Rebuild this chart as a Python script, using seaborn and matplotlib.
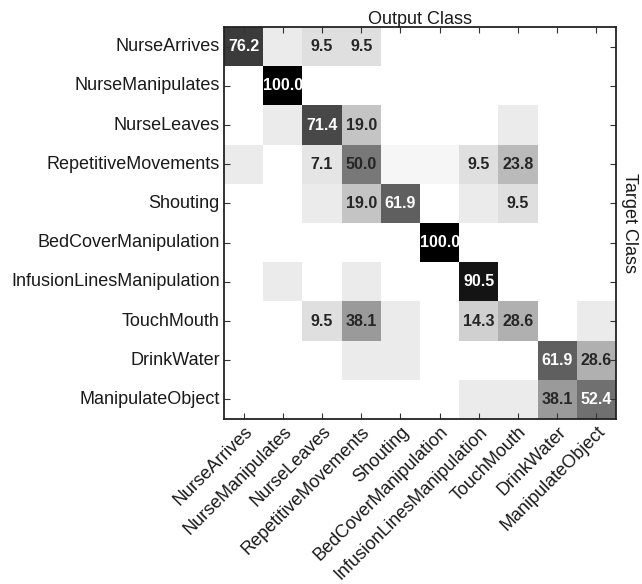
import numpy as np
import pandas as pd
import matplotlib
matplotlib.use("Agg")
import matplotlib.pyplot as plt
from matplotlib.colors import LinearSegmentedColormap
import seaborn as sns

classes = ["NurseArrives", "NurseManipulates", "NurseLeaves", "RepetitiveMovements",
           "Shouting", "BedCoverManipulation", "InfusionLinesManipulation",
           "TouchMouth", "DrinkWater", "ManipulateObject"]

row_nurse_arrives = [76.2, 4.8, 9.5, 9.5, 0, 0, 0, 0, 0, 0]
row_nurse_manip   = [0, 100.0, 0, 0, 0, 0, 0, 0, 0, 0]
row_nurse_leaves  = [0, 4.8, 71.4, 19.0, 0, 0, 0, 4.8, 0, 0]
row_repetitive    = [4.8, 0, 7.1, 50.0, 2.4, 2.4, 9.5, 23.8, 0, 0]
row_shouting      = [0, 0, 4.8, 19.0, 61.9, 0, 4.8, 9.5, 0, 0]
row_bedcover      = [0, 0, 0, 0, 0, 100.0, 0, 0, 0, 0]
row_infusion      = [0, 4.8, 0, 4.8, 0, 0, 90.5, 0, 0, 0]
row_touchmouth    = [0, 0, 9.5, 38.1, 4.8, 0, 14.3, 28.6, 0, 4.8]
row_drinkwater    = [0, 0, 0, 4.8, 4.8, 0, 0, 0, 61.9, 28.6]
row_manipobj      = [0, 0, 0, 0, 0, 0, 4.8, 4.8, 38.1, 52.4]

matrix = np.array([row_nurse_arrives, row_nurse_manip, row_nurse_leaves, row_repetitive,
                   row_shouting, row_bedcover, row_infusion, row_touchmouth,
                   row_drinkwater, row_manipobj])
df = pd.DataFrame(matrix, index=classes, columns=classes)

annot = np.where(matrix >= 5, np.vectorize(lambda v: f"{v:.1f}")(matrix), "")

# grey scale
nodes_v = [0, 2.4, 4.8, 9.5, 14.3, 19, 23.8, 28.6, 38.1, 50, 52.4, 61.9, 71.4, 76.2, 90.5, 100]
nodes_g = [255, 246, 235, 223, 207, 196, 185, 176, 154, 121, 112, 95, 72, 60, 20, 0]
cmap = LinearSegmentedColormap.from_list(
    "cm", [(v / 100.0, (g / 255.0, g / 255.0, min(1.0, g / 255.0 + 0.004))) for v, g in zip(nodes_v, nodes_g)])

sns.set_theme(style="white")
plt.rcParams['font.family'] = ['Liberation Sans', 'DejaVu Sans']

fig = plt.figure(figsize=(6.42, 5.84), dpi=100)
ax = fig.add_axes([224 / 642, 1 - 419 / 584, 392 / 642, 392 / 584])

sns.heatmap(df, ax=ax, cmap=cmap, vmin=0, vmax=100, cbar=False, annot=annot, fmt="",
            annot_kws={"fontsize": 11.5, "fontweight": "bold"}, linewidths=0, square=False)

for t in ax.texts:
    s = t.get_text()
    if s:
        v = float(s)
        t.set_color("white" if v > 51 else "#262626")

ax.set_axisbelow(False)
for sp in ax.spines.values():
    sp.set_visible(True)
    sp.set_color("#222222")
    sp.set_linewidth(1.3)
    sp.set_zorder(5)

ax.tick_params(axis="both", which="major", direction="in", length=4, width=0.8,
               color="#333333", top=True, right=True, bottom=True, left=True,
               labeltop=False, labelright=False, labelsize=13, pad=3)
ax.set_yticklabels(classes, rotation=0, fontsize=13, color="#1a1a1a")
ax.set_xticklabels(classes, rotation=45, ha="right", rotation_mode="anchor",
                   fontsize=13, color="#1a1a1a")
ax.set_xlabel("")
ax.set_ylabel("")

ax.set_title("Output Class", fontsize=13, color="#1a1a1a", pad=2)
ax.text(1.035, 0.5, "Target Class", transform=ax.transAxes, rotation=-90,
        va="center", ha="center", fontsize=13, color="#1a1a1a")

fig.savefig("out.png", dpi=100)
